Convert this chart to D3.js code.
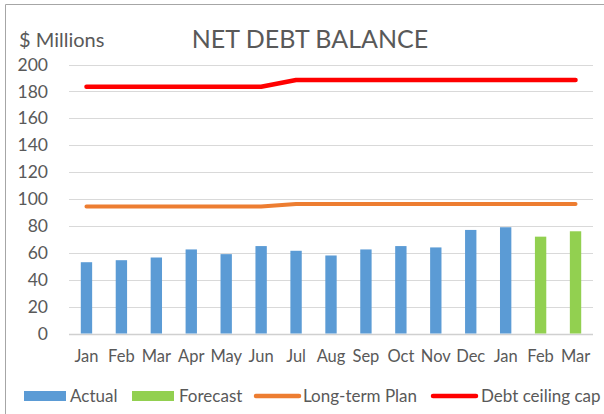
<!DOCTYPE html>
<html>
<head>
<meta charset="utf-8">
<script src="https://cdn.jsdelivr.net/npm/d3@7"></script>
<style>
  body { margin: 0; background: #fff; }
  text { font-family: Lato, "Liberation Sans", sans-serif; fill: #595959; }
</style>
</head>
<body>
<div id="chart"></div>
<script>
const months = ['Jan', 'Feb', 'Mar', 'Apr', 'May', 'Jun', 'Jul', 'Aug', 'Sep', 'Oct', 'Nov', 'Dec', 'Jan', 'Feb', 'Mar'];
const actual = [53, 54.5, 56.5, 62.5, 59, 65, 61.5, 58, 62.5, 65, 64, 77, 79, null, null];
const forecast = [null, null, null, null, null, null, null, null, null, null, null, null, null, 72, 76];
const longTermPlan = [94.5, 94.5, 94.5, 94.5, 94.5, 94.5, 96.3, 96.3, 96.3, 96.3, 96.3, 96.3, 96.3, 96.3, 96.3];
const debtCeiling = [183.5, 183.5, 183.5, 183.5, 183.5, 183.5, 188.5, 188.5, 188.5, 188.5, 188.5, 188.5, 188.5, 188.5, 188.5];
const yTicks = [0, 20, 40, 60, 80, 100, 120, 140, 160, 180, 200];

const width = 604;
const height = 414;
const plot = { left: 69, right: 593, top: 64.5, bottom: 333.5 };

const svg = d3.select('#chart')
    .append('svg')
    .attr('width', width)
    .attr('height', height);

// chart border (only top and left fall inside the picture)
svg.append('path')
    .attr('d', `M5.5,${height} V4.5 H${width}`)
    .attr('fill', 'none')
    .attr('stroke', '#a6a6a6')
    .attr('stroke-width', 1);

const idx = months.map((d, i) => i);
const x = d3.scaleBand()
    .domain(idx)
    .range([plot.left, plot.right])
    .paddingInner(0.675)
    .paddingOuter(0.3375);
const y = d3.scaleLinear()
    .domain([0, 200])
    .range([plot.bottom, plot.top]);
const cx = i => x(i) + x.bandwidth() / 2;

// gridlines
svg.append('g')
    .selectAll('line')
    .data(yTicks)
    .join('line')
    .attr('x1', plot.left)
    .attr('x2', plot.right)
    .attr('y1', d => Math.round(y(d)) + 0.5)
    .attr('y2', d => Math.round(y(d)) + 0.5)
    .attr('stroke', d => d === 0 ? '#d0d0d0' : '#d9d9d9')
    .attr('stroke-width', d => d === 0 ? 1.5 : 1);

// y tick labels
svg.append('g')
    .selectAll('text')
    .data(yTicks)
    .join('text')
    .attr('x', 48)
    .attr('y', d => y(d))
    .attr('dy', '0.35em')
    .attr('text-anchor', 'end')
    .attr('font-size', 17.5)
    .text(d => d);

// x labels
svg.append('g')
    .selectAll('text')
    .data(months)
    .join('text')
    .attr('x', (d, i) => cx(i))
    .attr('y', 356)
    .attr('dy', '0.35em')
    .attr('text-anchor', 'middle')
    .attr('font-size', 16.5)
    .text(d => d);

// bars
const bars = svg.append('g');
bars.selectAll('rect.actual')
    .data(actual.map((v, i) => ({ v, i })).filter(d => d.v !== null))
    .join('rect')
    .attr('class', 'actual')
    .attr('x', d => x(d.i))
    .attr('width', x.bandwidth())
    .attr('y', d => y(d.v))
    .attr('height', d => y(0) - y(d.v))
    .attr('fill', '#5b9bd5');
bars.selectAll('rect.forecast')
    .data(forecast.map((v, i) => ({ v, i })).filter(d => d.v !== null))
    .join('rect')
    .attr('class', 'forecast')
    .attr('x', d => x(d.i))
    .attr('width', x.bandwidth())
    .attr('y', d => y(d.v))
    .attr('height', d => y(0) - y(d.v))
    .attr('fill', '#92d050');

// lines
const line = d3.line()
    .x((d, i) => cx(i))
    .y(d => y(d));
svg.append('path')
    .datum(longTermPlan)
    .attr('d', line)
    .attr('fill', 'none')
    .attr('stroke', '#ed7d31')
    .attr('stroke-width', 4)
    .attr('stroke-linecap', 'round')
    .attr('stroke-linejoin', 'round');
svg.append('path')
    .datum(debtCeiling)
    .attr('d', line)
    .attr('fill', 'none')
    .attr('stroke', '#ff0000')
    .attr('stroke-width', 4.5)
    .attr('stroke-linecap', 'round')
    .attr('stroke-linejoin', 'round');

// titles
svg.append('text')
    .attr('x', 310)
    .attr('y', 48)
    .attr('text-anchor', 'middle')
    .attr('font-size', 25)
    .text('NET DEBT BALANCE');
svg.append('text')
    .attr('x', 19)
    .attr('y', 47)
    .attr('font-size', 20)
    .text('$ Millions');

// legend
const legendY = 396;
const legend = [
    { name: 'Actual', type: 'rect', color: '#5b9bd5', x0: 24, tx: 70 },
    { name: 'Forecast', type: 'rect', color: '#92d050', x0: 132, tx: 179 },
    { name: 'Long-term Plan', type: 'line', color: '#ed7d31', x0: 256, tx: 303 },
    { name: 'Debt ceiling cap', type: 'line', color: '#ff0000', x0: 433, tx: 481 }
];
const lg = svg.append('g')
    .selectAll('g')
    .data(legend)
    .join('g');
lg.filter(d => d.type === 'rect')
    .append('rect')
    .attr('x', d => d.x0)
    .attr('y', legendY - 5)
    .attr('width', 42)
    .attr('height', 10)
    .attr('fill', d => d.color);
lg.filter(d => d.type === 'line')
    .append('line')
    .attr('x1', d => d.x0)
    .attr('x2', d => d.x0 + 43)
    .attr('y1', legendY)
    .attr('y2', legendY)
    .attr('stroke', d => d.color)
    .attr('stroke-width', 4.5)
    .attr('stroke-linecap', 'round');
lg.append('text')
    .attr('x', d => d.tx)
    .attr('y', legendY)
    .attr('dy', '0.35em')
    .attr('font-size', 17)
    .text(d => d.name);
</script>
</body>
</html>
